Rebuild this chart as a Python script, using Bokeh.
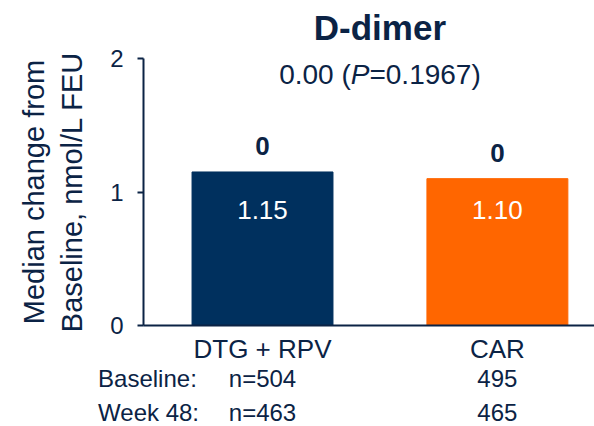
from bokeh.plotting import figure
from bokeh.models import ColumnDataSource, LabelSet, FixedTicker, Range1d
from bokeh.core.properties import value
from bokeh.embed import file_html
from bokeh.resources import INLINE

# ---- data ----
categories = ["DTG + RPV", "CAR"]
medians = [1.15, 1.10]
median_labels = ["1.15", "1.10"]
change_labels = ["0", "0"]
baseline_n = ["n=504", "495"]
week48_n = ["n=463", "465"]
bar_colors = ["#00305E", "#FF6600"]
y_ticks = [0, 1, 2]
chart_title = "D-dimer"
diff_text = "0.00"
p_text = "0.1967"
row_names = ["Baseline:", "Week 48:"]

NAVY = "#0B2345"
FONT = "Liberation Sans"

xs = [i + 0.5 for i in range(len(categories))]
src = ColumnDataSource(dict(x=xs, top=medians, lab=median_labels, chg=change_labels,
                            bn=baseline_n, wn=week48_n, color=bar_colors))

# view window (frame fills the canvas; axes are pinned inside it)
X_LO, X_HI = -0.6154, 1.9134
Y_LO, Y_HI = -0.7566, 2.4345
AXIS_X = -0.0066
MID_X = sum(xs) / len(xs)

p = figure(width=594, height=426, output_backend="svg", toolbar_location=None,
           x_range=Range1d(X_LO, X_HI), y_range=Range1d(Y_LO, Y_HI),
           min_border_left=0, min_border_right=0, min_border_top=0, min_border_bottom=0)
p.outline_line_color = None
p.grid.visible = False
p.background_fill_color = "white"
p.border_fill_color = "white"

p.vbar(x="x", top="top", width=0.6, color="color", source=src)

# y axis
ya = p.yaxis[0]
ya.fixed_location = AXIS_X
ya.bounds = (y_ticks[0], y_ticks[-1])
ya.ticker = FixedTicker(ticks=y_ticks)
ya.axis_label = "Median change from\nBaseline, nmol/L FEU"
ya.axis_label_text_font = FONT
ya.axis_label_text_font_style = "normal"
ya.axis_label_text_font_size = "29px"
ya.axis_label_text_color = NAVY
ya.axis_label_standoff = 19
ya.major_label_text_font = FONT
ya.major_label_text_font_size = "24px"
ya.major_label_text_color = NAVY
ya.major_label_standoff = 14
ya.major_tick_out = 6
ya.major_tick_in = 0
ya.minor_tick_out = 0
ya.minor_tick_in = 0
ya.axis_line_width = 2
ya.axis_line_color = NAVY
ya.major_tick_line_width = 2
ya.major_tick_line_color = NAVY

# x axis
xa = p.xaxis[0]
xa.fixed_location = 0
xa.bounds = (AXIS_X, X_HI)
xa.ticker = FixedTicker(ticks=xs)
xa.major_label_overrides = {x: c for x, c in zip(xs, categories)}
xa.major_label_text_font = FONT
xa.major_label_text_font_size = "26px"
xa.major_label_text_color = NAVY
xa.major_label_standoff = 9
xa.major_tick_out = 0
xa.major_tick_in = 0
xa.minor_tick_out = 0
xa.minor_tick_in = 0
xa.axis_line_width = 2
xa.axis_line_color = NAVY


def add_text(text, x, y, size, x_off=0, y_off=0, align="center", style="normal", color=NAVY):
    s = ColumnDataSource(dict(t=[text]))
    p.add_layout(LabelSet(x=x, y=y, x_offset=x_off, y_offset=y_off, text="t", source=s,
                          text_align=align, text_baseline="alphabetic", text_font=value(FONT),
                          text_font_size=f"{size}px", text_font_style=style, text_color=color))


# title and subtitle
top = y_ticks[-1]
add_text(chart_title, MID_X, top, 35, y_off=19, style="bold")
SUB = 28
add_text(diff_text + " (", MID_X, top, SUB, x_off=-1.042 * SUB, y_off=-25, align="right")
add_text("P", MID_X, top, SUB, x_off=-1.042 * SUB, y_off=-25, align="left", style="italic")
add_text("=" + p_text + ")", MID_X, top, SUB, x_off=-0.375 * SUB, y_off=-25, align="left")

# value labels inside bars
p.add_layout(LabelSet(x="x", y=0.8, text="lab", source=src, text_align="center",
                      text_baseline="alphabetic", text_font=value(FONT), text_font_size="26px",
                      text_color="white"))
# change labels above bars
p.add_layout(LabelSet(x="x", y="top", y_offset=17, text="chg", source=src, text_align="center",
                      text_baseline="alphabetic", text_font=value(FONT), text_font_size="26px",
                      text_font_style="bold", text_color=NAVY))

# n rows
for name, field, off in [(row_names[0], "bn", -62), (row_names[1], "wn", -96)]:
    add_text(name, -0.2, 0, 24, y_off=off, align="left")
    p.add_layout(LabelSet(x="x", y=0, y_offset=off, text=field, source=src, text_align="center",
                          text_baseline="alphabetic", text_font=value(FONT), text_font_size="24px",
                          text_color=NAVY))

open("out.html", "w").write(file_html(p, INLINE))
